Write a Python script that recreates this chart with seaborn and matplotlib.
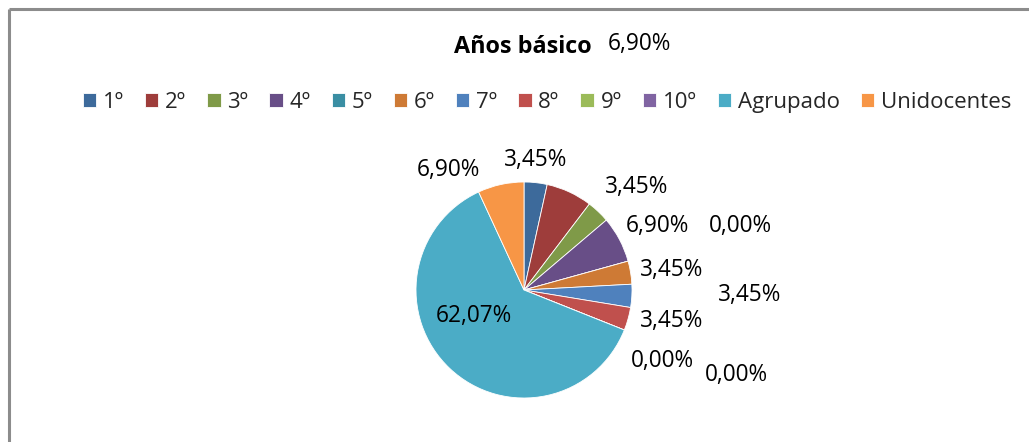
import matplotlib.pyplot as plt
import seaborn as sns

# datos del gráfico
categorias = ["1º", "2º", "3º", "4º", "5º", "6º", "7º", "8º", "9º", "10º",
              "Agrupado", "Unidocentes"]
porcentajes = [3.45, 6.90, 3.45, 6.90, 0.00, 3.45, 3.45, 3.45, 0.00, 0.00,
               62.07, 6.90]
colores = ["#3D6A9B", "#9E3D3B", "#7F9A48", "#684E87", "#3A8EA3", "#CE7A35",
           "#4F81BD", "#C0504D", "#9BBB59", "#8064A2", "#4BACC6", "#F79646"]
titulo = "Años básico"

# posiciones de las etiquetas (pixeles, como quedaron en Excel)
pos_etiquetas = [(536, 160), (639, 44), (637, 187), (657, 226), (740, 226),
                 (672, 270), (750, 295), (672, 321), (662, 361), (736, 375),
                 (474, 316), (448, 170)]

W, H = 1029, 442
sns.set_theme(style="white")
plt.rcParams["font.family"] = ["Open Sans", "DejaVu Sans"]
pal = sns.color_palette(colores)

fig = plt.figure(figsize=(W / 100, H / 100), dpi=100)
ax = fig.add_axes([0, 0, 1, 1])
ax.set_xlim(0, W)
ax.set_ylim(0, H)
ax.set_aspect("equal")
ax.axis("off")

wedges, _ = ax.pie(porcentajes, colors=pal, startangle=90, counterclock=False,
                   center=(524, H - 290), radius=108,
                   wedgeprops=dict(edgecolor="white", linewidth=0.6))
ax.set_xlim(0, W)
ax.set_ylim(0, H)

for val, (px, py) in zip(porcentajes, pos_etiquetas):
    txt = f"{val:.2f}%".replace(".", ",")
    ax.text(px, H - py, txt, ha="center", va="center", fontsize=16.3, color="black")

ax.text(523, H - 47, titulo, ha="center", va="center", fontsize=16.8,
        fontweight="bold", color="black")

# borde del área del gráfico
ax.plot([8.5, W], [H - 9, H - 9], color="#8C8C8C", lw=2.2, solid_capstyle="butt")
ax.plot([8.5, 8.5], [0, H - 9], color="#8C8C8C", lw=2.2, solid_capstyle="butt")

fig.legend(wedges, categorias, loc="center", bbox_to_anchor=(547 / W, 1 - 102 / H),
           ncol=12, frameon=False, fontsize=16, handlelength=0.6, handleheight=0.6,
           handletextpad=0.3, columnspacing=0.95, borderpad=0)

fig.savefig("out.png", dpi=100, facecolor="white")
